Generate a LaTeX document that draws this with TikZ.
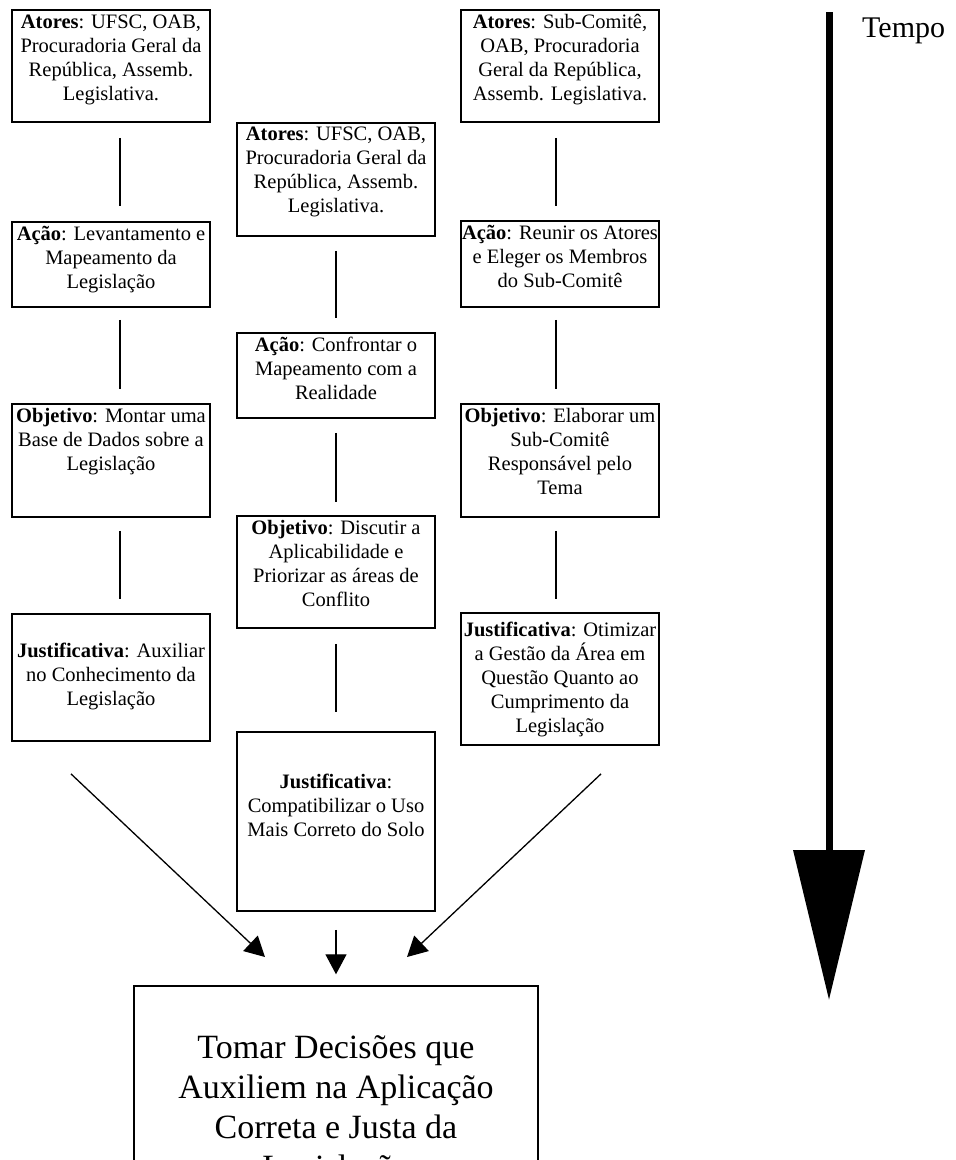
\documentclass[tikz,border=0pt]{standalone}
\usepackage{fontspec}
\setmainfont{Liberation Serif}
\usetikzlibrary{arrows.meta,calc}
\newcommand\boxtext[4]{\parbox[c][#1pt][t]{198pt}{\centering\fontsize{20.5pt}{24pt}\selectfont\rule{0pt}{#2pt}#3}}
\tikzset{
  stagebox/.style={draw=black,line width=1.8pt,inner sep=0pt,fill=white},
  conn/.style={draw=black,line width=1.3pt},
  flow/.style={draw=black,line width=1.3pt,-{Triangle[length=20pt,width=21pt]}},
  timeline/.style={draw=black,line width=7pt,-{Triangle[length=150pt,width=70pt]}}
}
\begin{document}
\begin{tikzpicture}[x=1pt,y=-1pt]
\useasboundingbox (0,0) rectangle (956,1160);
\clip (0,0) rectangle (956,1160);
% left column
\node[stagebox] (L1) at (111,66) {\boxtext{112}{18}{\textbf{Atores}: UFSC, OAB,\\Procuradoria Geral da\\República, Assemb.\\Legislativa.}{}};
\node[stagebox] (L2) at (111,264.5) {\boxtext{85}{18}{\textbf{Ação}: Levantamento e\\Mapeamento da\\Legislação}{}};
\node[stagebox] (L3) at (111,460.5) {\boxtext{113}{18}{\textbf{Objetivo}: Montar uma\\Base de Dados sobre a\\Legislação}{}};
\node[stagebox] (L4) at (111,677.5) {\boxtext{127}{43}{\textbf{Justificativa}: Auxiliar\\no Conhecimento da\\Legislação}{}};
% middle column
\node[stagebox] (M1) at (336,179.5) {\boxtext{113}{17}{\textbf{Atores}: UFSC, OAB,\\Procuradoria Geral da\\República, Assemb.\\Legislativa.}{}};
\node[stagebox] (M2) at (336,375.5) {\boxtext{85}{18}{\textbf{Ação}: Confrontar o\\Mapeamento com a\\Realidade}{}};
\node[stagebox] (M3) at (336,572) {\boxtext{112}{18}{\textbf{Objetivo}: Discutir a\\Aplicabilidade e\\Priorizar as áreas de\\Conflito}{}};
\node[stagebox] (M4) at (336,821.5) {\boxtext{179}{56}{\textbf{Justificativa}:\\Compatibilizar o Uso\\Mais Correto do Solo}{}};
% right column
\node[stagebox] (R1) at (560,66) {\boxtext{112}{18}{\textbf{Atores}: Sub-Comitê,\\OAB, Procuradoria\\Geral da República,\\Assemb. Legislativa.}{}};
\node[stagebox] (R2) at (560,264) {\boxtext{86}{18}{\textbf{Ação}: Reunir os Atores\\e Eleger os Membros\\do Sub-Comitê}{}};
\node[stagebox] (R3) at (560,460.5) {\boxtext{113}{18}{\textbf{Objetivo}: Elaborar um\\Sub-Comitê\\Responsável pelo\\Tema}{}};
\node[stagebox] (R4) at (560,679) {\boxtext{132}{23}{\textbf{Justificativa}: Otimizar\\a Gestão da Área em\\Questão Quanto ao\\Cumprimento da\\Legislação}{}};
% decision box
\node[draw=black,line width=1.4pt,inner sep=0pt] (D) at (336,1111) {\parbox[c][250pt][t]{404pt}{\centering\fontsize{34pt}{40pt}\selectfont\rule{0pt}{72pt}Tomar Decisões que\\Auxiliem na Aplicação\\Correta e Justa da\\Legislação}};
% vertical connectors
\draw[conn] ($(L1.south)+(9,15)$) -- ($(L2.north)+(9,-15)$);
\draw[conn] ($(L2.south)+(9,12)$) -- ($(L3.north)+(9,-14)$);
\draw[conn] ($(L3.south)+(9,13)$) -- ($(L4.north)+(9,-14)$);
\draw[conn] ($(M1.south)+(0,14)$) -- ($(M2.north)+(0,-14)$);
\draw[conn] ($(M2.south)+(0,14)$) -- ($(M3.north)+(0,-13)$);
\draw[conn] ($(M3.south)+(0,15)$) -- ($(M4.north)+(0,-19)$);
\draw[conn] ($(R1.south)+(-4,15)$) -- ($(R2.north)+(-4,-14)$);
\draw[conn] ($(R2.south)+(-4,12)$) -- ($(R3.north)+(-4,-14)$);
\draw[conn] ($(R3.south)+(-4,13)$) -- ($(R4.north)+(-4,-13)$);
% arrows to decision
\coordinate (tipL) at (265,957);
\coordinate (tipR) at (407,957);
\draw[flow] ($(L4.south)+(-40,32)$) -- (tipL);
\draw[flow] ($(R4.south)+(41,28)$) -- (tipR);
\draw[flow] ($(M4.south)+(0,18)$) -- ($(D.north)+(0,-11)$);
% time axis
\coordinate (t0) at (829,12);
\coordinate (t1) at (829,1000);
\draw[timeline] (t0) -- (t1);
\node[anchor=base west,inner sep=0pt,font=\fontsize{30pt}{34pt}\selectfont] (tempo) at (862,37) {Tempo};
\end{tikzpicture}
\end{document}
